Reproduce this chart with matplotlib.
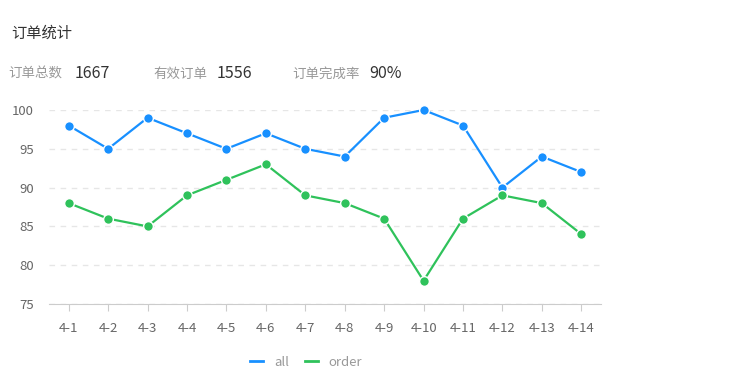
import matplotlib
matplotlib.use("Agg")
import matplotlib.pyplot as plt
from matplotlib.lines import Line2D

plt.rcParams['font.family'] = ['Noto Sans CJK SC', 'DejaVu Sans']

categories = ["4-1", "4-2", "4-3", "4-4", "4-5", "4-6", "4-7", "4-8", "4-9", "4-10", "4-11", "4-12", "4-13", "4-14"]
all_values = [98, 95, 99, 97, 95, 97, 95, 94, 99, 100, 98, 90, 94, 92]
order_values = [88, 86, 85, 89, 91, 93, 89, 88, 86, 78, 86, 89, 88, 84]
y_ticks = [75, 80, 85, 90, 95, 100]
stat_labels = ["订单总数", "有效订单", "订单完成率"]
stat_values = ["1667", "1556", "90%"]
title = "订单统计"

BLUE = "#1890ff"
GREEN = "#2fc25b"

W, H = 755, 382
fig = plt.figure(figsize=(W / 100, H / 100), dpi=100)
ax = fig.add_axes([49 / W, 1 - 304 / H, (601 - 49) / W, (304 - 110) / H])

x = list(range(len(categories)))
for vals, c in ((all_values, BLUE), (order_values, GREEN)):
    ax.plot(x, vals, color=c, lw=1.6, marker='o', markersize=7,
            markerfacecolor=c, markeredgecolor='white', markeredgewidth=1.0,
            zorder=3, clip_on=False)

ax.set_xlim(-0.5, len(categories) - 0.5)
ax.set_ylim(75, 100)
ax.set_yticks(y_ticks)
ax.set_xticks(x)
ax.set_xticklabels(categories)
ax.grid(axis='y', color='#e6e6e6', linestyle=(0, (4, 4)), linewidth=1)
ax.set_axisbelow(True)
for s in ('top', 'right', 'left'):
    ax.spines[s].set_visible(False)
ax.spines['bottom'].set_color('#cccccc')
ax.tick_params(axis='y', length=0, pad=11, labelsize=9.5, labelcolor='#666666')
ax.tick_params(axis='x', length=5, color='#cccccc', pad=8, labelsize=9.5, labelcolor='#666666')

# Title and stats
fig.text(11 / W, 1 - 33 / H, title, fontsize=11, color='#333333', va='center', ha='left')
stat_label_x = [8, 153, 292]
stat_value_x = [75, 217, 369]
for lab, val, lx, vx in zip(stat_labels, stat_values, stat_label_x, stat_value_x):
    fig.text(lx / W, 1 - 74 / H, lab, fontsize=9.7, color='#999999', va='center', ha='left')
    fig.text(vx / W, 1 - 73 / H, val, fontsize=11.5, color='#333333', va='center', ha='left')

# Legend
handles = [Line2D([0], [0], color=BLUE, lw=2), Line2D([0], [0], color=GREEN, lw=2)]
fig.legend(handles, ["all", "order"], loc='center', bbox_to_anchor=(306 / W, 1 - 362 / H),
           ncol=2, frameon=False, fontsize=9.5, labelcolor='#999999',
           handlelength=1.0, handletextpad=0.8, columnspacing=1.2)

fig.savefig("out.png", dpi=100)
